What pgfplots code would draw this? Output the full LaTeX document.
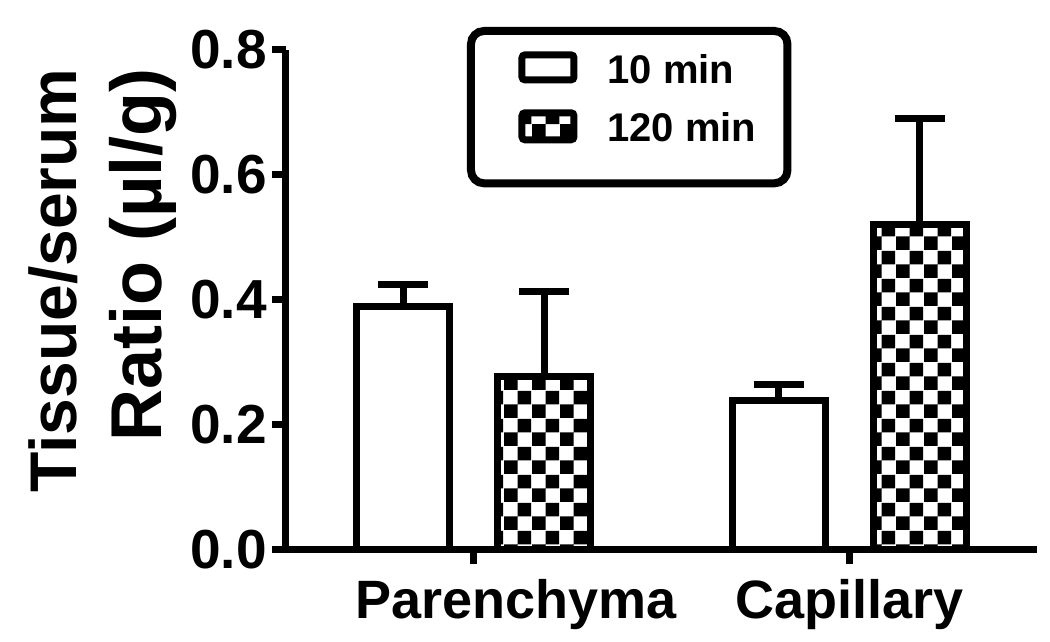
\documentclass[border=0pt]{standalone}
\usepackage{fontspec}
\setmainfont{Liberation Sans}
\usepackage{pgfplots}
\pgfplotsset{compat=1.18}
\usetikzlibrary{patterns}
\pgfdeclarepatternformonly{checker}{\pgfqpoint{0pt}{0pt}}{\pgfqpoint{14pt}{14pt}}{\pgfqpoint{14pt}{14pt}}{%
  \pgfpathrectangle{\pgfqpoint{0pt}{0pt}}{\pgfqpoint{7pt}{7pt}}%
  \pgfpathrectangle{\pgfqpoint{7pt}{7pt}}{\pgfqpoint{7pt}{7pt}}%
  \pgfusepath{fill}}

\begin{document}
\begin{tikzpicture}
\begin{axis}[
  name=ax,
  scale only axis, width=375.5pt, height=250pt,
  xmin=-0.5, xmax=1.5, ymin=0, ymax=0.8,
  axis lines=left,
  axis line style={-, line width=3.5pt, black},
  ybar=24pt, bar width=46.5pt,
  xtick={0,1}, xticklabels={\hspace*{42pt}Parenchyma,Capillary},
  ytick={0,0.2,0.4,0.6,0.8},
  tick align=outside, major tick length=7pt,
  tick style={line width=3.5pt, black},
  /pgf/number format/assume math mode=true,
  yticklabel style={/pgf/number format/fixed, /pgf/number format/fixed zerofill,
    /pgf/number format/precision=1, font=\fontsize{27.5}{27.5}\selectfont\bfseries,
    anchor=east, inner sep=0pt, xshift=-2.5pt},
  xticklabel style={font=\fontsize{27}{27}\selectfont\bfseries, anchor=base, inner sep=0pt, yshift=-27.5pt},
  legend style={at={(0.241,1.046)}, anchor=north west, draw=black, line width=4pt,
    rounded corners=6.5pt, inner xsep=15.5pt, inner ysep=10.2pt,
    font=\fontsize{20}{20}\selectfont\bfseries, row sep=11.2pt, column sep=15pt,
    nodes={inner sep=0pt}, cells={anchor=base west}},
]
\addplot[draw=black, fill=white, line width=3.5pt,
  error bars/.cd, y dir=plus, y explicit, error mark=|,
  error bar style={line width=3.5pt, black},
  error mark options={line width=3.5pt, mark size=12.5pt, black},
  /pgfplots/legend image code/.code={%
    \path (-8.25pt,8pt);
    \draw[line width=3.5pt, fill=white, rounded corners=1.5pt] (0pt,2pt) rectangle (26pt,14.5pt);}]
  coordinates {(0,0.390) +- (0,0.035) (1,0.239) +- (0,0.025)};
\addlegendentry{10 min}
\addplot[draw=black, pattern=checker, line width=3.5pt,
  error bars/.cd, y dir=plus, y explicit, error mark=|,
  error bar style={line width=3.5pt, black},
  error mark options={line width=3.5pt, mark size=12.5pt, black},
  /pgfplots/legend image code/.code={%
    \path (-8.25pt,-8.8pt);
    \draw[line width=3.5pt, pattern=checker, rounded corners=1.5pt] (0pt,1pt) rectangle (26pt,14.5pt);}]
  coordinates {(0,0.278) +- (0,0.136) (1,0.520) +- (0,0.170)};
\addlegendentry{120 min}
\end{axis}
\node[rotate=90, anchor=south east, align=right, inner sep=0pt,
  font=\fontsize{33}{42.5}\selectfont\bfseries]
  at ([shift={(-54.5pt,241pt)}]ax.south west) {Tissue/serum\\{\fontsize{36}{42.5}\selectfont Ratio (µl/g)}};
\pgfresetboundingbox
\path ([shift={(-143pt,-46pt)}]ax.south west) rectangle ([shift={(382pt,275pt)}]ax.south west);
\end{tikzpicture}
\end{document}
